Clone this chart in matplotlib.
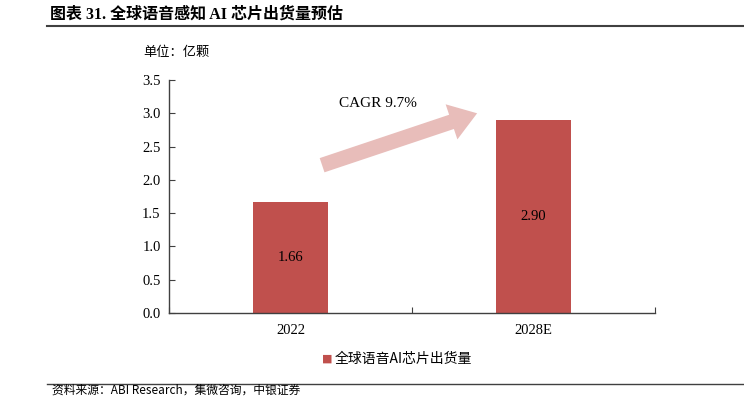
import numpy as np
import matplotlib.pyplot as plt
from matplotlib.patches import FancyArrow
from matplotlib.transforms import IdentityTransform

categories = ['2022', '2028E']
shipments = [1.66, 2.90]
y_ticks = [0.0, 0.5, 1.0, 1.5, 2.0, 2.5, 3.0, 3.5]
cagr_label = 'CAGR 9.7%'
series_name = '全球语音AI芯片出货量'

serif = ['Liberation Serif', 'Noto Sans CJK SC']
cjk = ['Noto Sans CJK SC', 'Liberation Serif']
bar_color = '#C0504D'

fig = plt.figure(figsize=(7.44, 3.98), dpi=100)
ax = fig.add_axes([169 / 744, 1 - 313 / 398, 486 / 744, 233 / 398])

x = np.arange(len(categories))
bars = ax.bar(x, shipments, width=0.31, color=bar_color, zorder=2)
for xi, v in zip(x, shipments):
    ax.text(xi, v / 2, f'{v:.2f}', ha='center', va='center', fontsize=10.5,
            family=serif, color='black')

ax.set_xlim(-0.5, 1.5)
ax.set_ylim(0, 3.5)
ax.set_yticks(y_ticks)
ax.set_yticklabels([f'{t:.1f}' for t in y_ticks], family=serif, fontsize=10.5)
# ticks sit between the categories, labels in the middle
ax.set_xticks([-0.5, 0.5, 1.5])
ax.set_xticklabels([])
ax.set_xticks(x, minor=True)
ax.set_xticklabels(categories, minor=True, family=serif, fontsize=10.5)
ax.tick_params(axis='x', which='minor', length=0, pad=8)
ax.tick_params(axis='x', which='major', direction='in', length=4, color='#404040')
ax.tick_params(axis='y', direction='in', length=4, color='#404040', pad=6)
for side in ['top', 'right']:
    ax.spines[side].set_visible(False)
for side in ['left', 'bottom']:
    ax.spines[side].set_color('#404040')
    ax.spines[side].set_linewidth(1.0)

# growth arrow, drawn in pixel space so widths stay square
fig.canvas.draw()
tail = ax.transData.transform((0.13, 2.22))
tip = ax.transData.transform((0.768, 3.0))
arrow = FancyArrow(tail[0], tail[1], tip[0] - tail[0], tip[1] - tail[1],
                   width=15, head_width=37, head_length=27,
                   length_includes_head=True, color='#E8BDBA', lw=0,
                   transform=IdentityTransform(), zorder=3)
fig.add_artist(arrow)
ax.text(0.36, 3.15, cagr_label, ha='center', va='center', fontsize=11,
        family=serif)

# legend
fig.text(322 / 744, 1 - 359 / 398, '■', color=bar_color, fontsize=8,
         family=['DejaVu Sans'], va='center', ha='left')
fig.text(335 / 744, 1 - 359 / 398, series_name, fontsize=10, family=cjk,
         va='center', ha='left')

# title, unit and source
fig.text(50 / 744, 1 - 15 / 398, '图表 31. 全球语音感知 AI 芯片出货量预估',
         fontsize=11.5, fontweight='bold', family=serif, va='center', ha='left')
fig.add_artist(plt.Line2D([47 / 744, 1], [1 - 26 / 398] * 2, color='#404040', lw=1.5))
fig.text(143 / 744, 1 - 52 / 398, '单位：亿颗', fontsize=9.5, family=cjk,
         va='center', ha='left')
fig.add_artist(plt.Line2D([47 / 744, 1], [1 - 384 / 398] * 2, color='#404040', lw=1.0))
fig.text(52 / 744, 1 / 398, '资料来源：ABI Research，集微咨询，中银证券',
         fontsize=8.5, style='italic', family=cjk, va='bottom', ha='left')

fig.savefig('out.png', dpi=100)
